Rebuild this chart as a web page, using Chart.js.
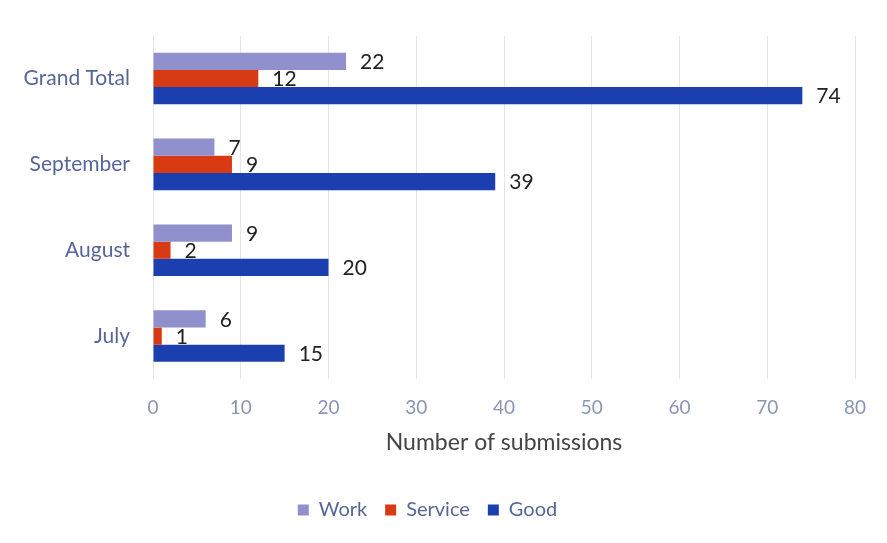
<!DOCTYPE html>
<html>
<head>
<meta charset="utf-8">
<script src="https://cdn.jsdelivr.net/npm/chart.js@4"></script>
<style>
  html, body { margin: 0; padding: 0; background: #fff; }
  #wrap { width: 887px; height: 543px; position: relative; }
</style>
</head>
<body>
<div id="wrap"><canvas id="chart"></canvas></div>
<script>
const categories = ['Grand Total', 'September', 'August', 'July'];
const work = [22, 7, 9, 6];
const service = [12, 9, 2, 1];
const good = [74, 39, 20, 15];
const xTicks = [0, 10, 20, 30, 40, 50, 60, 70, 80];

const FONT = 'Lato, "Open Sans", sans-serif';

// draws the value next to the end of each bar
const valueLabels = {
    id: 'valueLabels',
    afterDatasetsDraw: function(chart) {
        const ctx = chart.ctx;
        ctx.save();
        ctx.font = '21px ' + FONT;
        ctx.fillStyle = '#222';
        ctx.textAlign = 'left';
        ctx.textBaseline = 'middle';
        chart.data.datasets.forEach(function(ds, i) {
            chart.getDatasetMeta(i).data.forEach(function(bar, j) {
                ctx.fillText(ds.data[j], bar.x + 14, bar.y + 1);
            });
        });
        ctx.restore();
    }
};

new Chart(document.getElementById('chart').getContext('2d'), {
    type: 'bar',
    data: {
        labels: categories,
        datasets: [
            { label: 'Work', data: work, backgroundColor: '#8f90cc' },
            { label: 'Service', data: service, backgroundColor: '#d83a14' },
            { label: 'Good', data: good, backgroundColor: '#1c3faf' }
        ]
    },
    options: {
        indexAxis: 'y',
        responsive: true,
        maintainAspectRatio: false,
        animation: false,
        categoryPercentage: 0.6,
        barPercentage: 1.0,
        layout: { padding: { top: 34, right: 32, left: 0, bottom: 13 } },
        scales: {
            x: {
                min: 0,
                max: 80,
                afterBuildTicks: function(scale) {
                    scale.ticks = xTicks.map(function(v) { return { value: v }; });
                },
                grid: { color: '#e4e4ec', drawTicks: false },
                border: { display: false },
                ticks: { color: '#8b95b5', font: { size: 19, family: FONT }, padding: 17 },
                title: {
                    display: true,
                    text: 'Number of submissions',
                    color: '#444',
                    font: { size: 23, family: FONT },
                    padding: { top: 0, bottom: 26 }
                },
                afterFit: function(scale) { scale.height = 103; }
            },
            y: {
                grid: { display: false, drawTicks: false },
                border: { display: false },
                ticks: { color: '#56669a', font: { size: 21, family: FONT }, padding: 23 },
                afterFit: function(scale) { scale.width = 153; }
            }
        },
        plugins: {
            legend: {
                position: 'bottom',
                labels: {
                    color: '#56669a',
                    font: { size: 20, family: FONT },
                    boxWidth: 11,
                    boxHeight: 11,
                    padding: 18
                }
            },
            tooltip: { enabled: false }
        }
    },
    plugins: [valueLabels]
});
</script>
</body>
</html>
